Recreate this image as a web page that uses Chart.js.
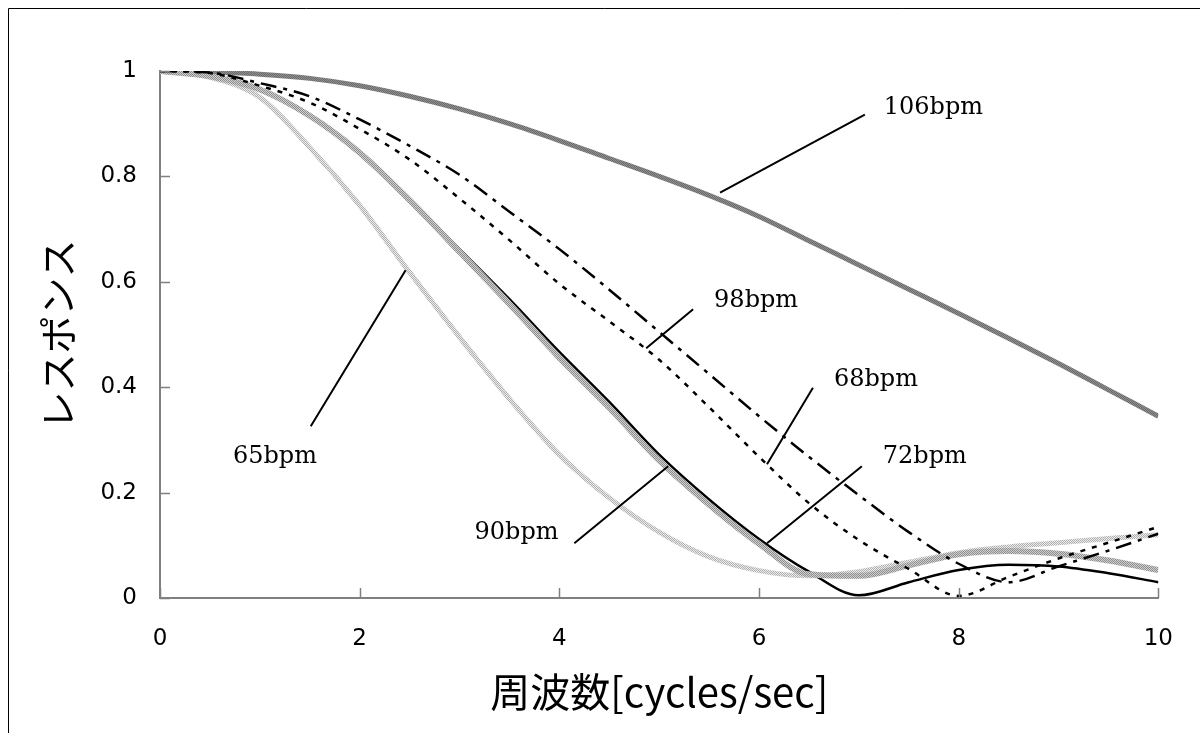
<!DOCTYPE html>
<html>
<head>
<meta charset="utf-8">
<script src="https://cdn.jsdelivr.net/npm/chart.js@4.4.0/dist/chart.umd.min.js"></script>
<style>
  html, body { margin: 0; padding: 0; background: #fff; }
</style>
</head>
<body>
<canvas id="chart" width="1200" height="733"></canvas>
<script>
// frequency axis [cycles/sec]
const freq = [0, 0.5, 1, 1.5, 2, 2.5, 3, 3.5, 4, 4.5, 5, 5.5, 6, 6.5, 7, 7.5, 8, 8.5, 9, 9.5, 10];

// response curves
const bpm106 = [1.000, 0.998, 0.994, 0.986, 0.972, 0.952, 0.928, 0.900, 0.868, 0.834, 0.800, 0.764, 0.724, 0.678, 0.632, 0.586, 0.540, 0.493, 0.445, 0.395, 0.345];
const bpm98  = [1.000, 0.997, 0.977, 0.952, 0.908, 0.858, 0.803, 0.733, 0.662, 0.585, 0.505, 0.425, 0.345, 0.268, 0.195, 0.125, 0.065, 0.030, 0.060, 0.090, 0.122];
const bpm68  = [1.000, 0.996, 0.972, 0.940, 0.890, 0.832, 0.758, 0.679, 0.596, 0.525, 0.452, 0.362, 0.268, 0.180, 0.110, 0.055, 0.004, 0.040, 0.075, 0.105, 0.135];
const bpm90  = [1.000, 0.990, 0.965, 0.915, 0.845, 0.755, 0.662, 0.567, 0.467, 0.372, 0.272, 0.187, 0.112, 0.050, 0.005, 0.030, 0.053, 0.063, 0.060, 0.047, 0.030];
const bpm72  = [1.000, 0.990, 0.965, 0.915, 0.845, 0.755, 0.657, 0.558, 0.456, 0.361, 0.261, 0.177, 0.103, 0.045, 0.042, 0.062, 0.083, 0.089, 0.084, 0.071, 0.053];
const bpm65  = [1.000, 0.988, 0.950, 0.855, 0.745, 0.618, 0.495, 0.378, 0.272, 0.190, 0.125, 0.078, 0.052, 0.042, 0.050, 0.068, 0.086, 0.097, 0.105, 0.113, 0.120];

const xTicks = [0, 2, 4, 6, 8, 10];
const yTicks = [0, 0.2, 0.4, 0.6, 0.8, 1];

// annotation labels and their leader lines (data units)
const labelText = ['106bpm', '98bpm', '68bpm', '72bpm', '90bpm', '65bpm'];
const labelX = [7.25, 5.55, 6.75, 7.24, 3.15, 0.73];
const labelY = [0.930, 0.564, 0.414, 0.268, 0.123, 0.268];
const leaderFrom = [[5.61, 0.769], [4.87, 0.474], [6.08, 0.254], [6.08, 0.104], [4.15, 0.104], [1.51, 0.326]];
const leaderTo = [[7.06, 0.917], [5.34, 0.548], [6.54, 0.399], [7.03, 0.250], [5.09, 0.250], [2.46, 0.622]];

const canvas = document.getElementById('chart');
const ctx = canvas.getContext('2d');

// small checker texture, like the hatched grey lines of the original
function checker(a, b) {
    const p = document.createElement('canvas');
    p.width = 2; p.height = 2;
    const g = p.getContext('2d');
    g.fillStyle = a; g.fillRect(0, 0, 2, 2);
    g.fillStyle = b; g.fillRect(0, 0, 1, 1); g.fillRect(1, 1, 1, 1);
    return ctx.createPattern(p, 'repeat');
}

const pts = ys => freq.map((x, i) => ({ x: x, y: ys[i] }));

function line(label, ys, color, width, dash, order) {
    return {
        label: label,
        data: pts(ys),
        borderColor: color,
        borderWidth: width,
        borderDash: dash,
        pointRadius: 0,
        fill: false,
        cubicInterpolationMode: 'monotone',
        order: order
    };
}

const TICK_FONT = { family: "'DejaVu Sans', sans-serif", size: 23 };

const decor = {
    id: 'decor',
    beforeDraw(chart) {
        const c = chart.ctx;
        c.save();
        c.fillStyle = '#fff';
        c.fillRect(0, 0, chart.width, chart.height);
        c.restore();
    },
    afterDraw(chart) {
        const c = chart.ctx;
        const xs = chart.scales.x, ys = chart.scales.y;
        const a = chart.chartArea;
        c.save();

        // inward tick marks
        c.strokeStyle = '#808080';
        c.lineWidth = 1.5;
        c.beginPath();
        xTicks.forEach(v => {
            const px = Math.round(xs.getPixelForValue(v)) + 0.5;
            c.moveTo(px, a.bottom); c.lineTo(px, a.bottom - 10);
        });
        yTicks.forEach(v => {
            const py = Math.round(ys.getPixelForValue(v)) + 0.5;
            c.moveTo(a.left, py); c.lineTo(a.left + 10, py);
        });
        c.stroke();

        // outer frame (top and left only are visible)
        c.strokeStyle = '#000';
        c.lineWidth = 1;
        c.beginPath();
        c.moveTo(8.5, chart.height); c.lineTo(8.5, 8.5); c.lineTo(chart.width, 8.5);
        c.stroke();

        // leader lines
        c.strokeStyle = '#000';
        c.lineWidth = 2;
        c.beginPath();
        leaderFrom.forEach((f, i) => {
            const t = leaderTo[i];
            c.moveTo(xs.getPixelForValue(f[0]), ys.getPixelForValue(f[1]));
            c.lineTo(xs.getPixelForValue(t[0]), ys.getPixelForValue(t[1]));
        });
        c.stroke();

        // curve labels
        c.fillStyle = '#000';
        c.font = "24px 'DejaVu Serif', serif";
        c.textAlign = 'left';
        c.textBaseline = 'middle';
        labelText.forEach((t, i) => {
            c.fillText(t, xs.getPixelForValue(labelX[i]), ys.getPixelForValue(labelY[i]));
        });

        // axis titles
        c.font = "40px 'Noto Sans CJK JP', sans-serif";
        c.textAlign = 'center';
        c.fillText('周波数[cycles/sec]', (a.left + a.right) / 2, 692);

        c.translate(58, (a.top + a.bottom) / 2);
        c.rotate(-Math.PI / 2);
        c.font = "38px 'Noto Sans CJK JP', sans-serif";
        c.fillText('レスポンス', 0, 0);
        c.restore();
    }
};

new Chart(ctx, {
    type: 'line',
    data: {
        datasets: [
            line('98bpm', bpm98, '#000', 2.5, [16, 7, 4, 7], 0),
            line('68bpm', bpm68, '#000', 2.5, [5, 7], 0),
            line('72bpm', bpm72, checker('#cfcfcf', '#8e8e8e'), 6, [], 1),
            line('90bpm', bpm90, '#000', 2.5, [], 2),
            line('65bpm', bpm65, checker('#ececec', '#b0b0b0'), 5, [], 3),
            line('106bpm', bpm106, checker('#909090', '#6a6a6a'), 5, [], 4)
        ]
    },
    options: {
        responsive: false,
        animation: false,
        devicePixelRatio: 1,
        layout: { padding: { left: 0, right: 41, top: 71, bottom: 0 } },
        plugins: {
            legend: { display: false },
            tooltip: { enabled: false },
            title: { display: false }
        },
        scales: {
            x: {
                type: 'linear',
                min: 0,
                max: 10,
                afterFit(scale) { scale.height = 135; },
                afterBuildTicks(scale) { scale.ticks = xTicks.map(v => ({ value: v })); },
                grid: { display: false, drawTicks: false },
                border: { display: true, color: '#808080', width: 2 },
                ticks: { color: '#000', font: TICK_FONT, padding: 27, maxRotation: 0 }
            },
            y: {
                min: 0,
                max: 1,
                afterFit(scale) { scale.width = 160; },
                afterBuildTicks(scale) { scale.ticks = yTicks.map(v => ({ value: v })); },
                grid: { display: false, drawTicks: false },
                border: { display: true, color: '#808080', width: 2 },
                ticks: {
                    color: '#000',
                    font: TICK_FONT,
                    padding: 23,
                    callback: v => String(Math.round(v * 10) / 10)
                }
            }
        }
    },
    plugins: [decor]
});
</script>
</body>
</html>
